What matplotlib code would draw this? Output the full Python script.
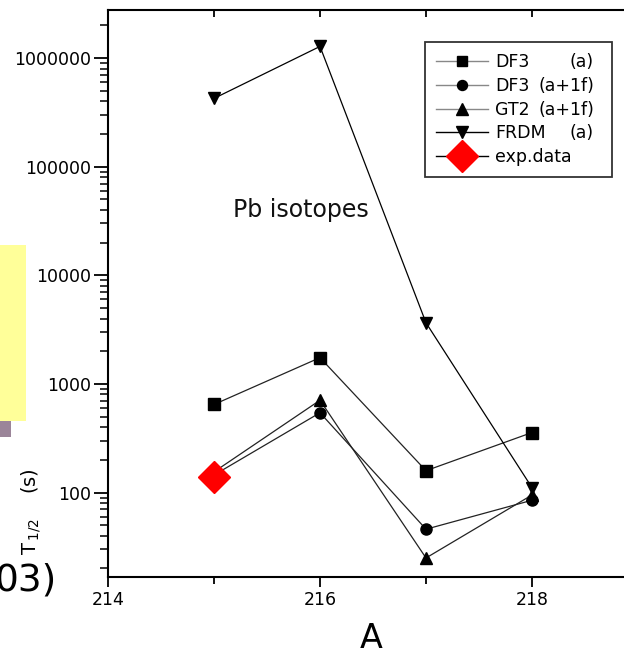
import matplotlib
matplotlib.use("Agg")
import matplotlib.pyplot as plt
from matplotlib.patches import Rectangle
from matplotlib.ticker import LogLocator, NullFormatter, FixedLocator

plt.rcParams['font.family'] = ['DejaVu Sans']

# ---- data ----
A = [215, 216, 217, 218]
df3_a = [647, 1746, 159, 357]
df3_a1f = [145, 543, 46, 85]
gt2_a1f = [155, 708, 25, 95]
frdm_a = [4.25e5, 1.28e6, 3655, 111]
exp_A = [215]
exp_T = [140]

names = ["DF3", "DF3", "GT2", "FRDM", "exp.data"]
suffix = ["(a)", "(a+1f)", "(a+1f)", "(a)", ""]

xticks = [214, 216, 218]
xticklabels = ["214", "216", "218"]
yticks = [100, 1000, 10000, 100000, 1000000]
yticklabels = ["100", "1000", "10000", "100000", "1000000"]

W, H = 624, 649
fig = plt.figure(figsize=(W / 100, H / 100), dpi=100)

# axes in pixel coordinates: left 108, top 10, bottom 577, x-scale 106 px/unit
left, top, bottom = 108, 10, 577
xmin, xmax = 214, 219
px_per_unit = 106
axw = (xmax - xmin) * px_per_unit
axh = bottom - top
ax = fig.add_axes([left / W, (H - bottom) / H, axw / W, axh / H])
ax.set_xlim(xmin, xmax)
ax.set_yscale('log')
ax.set_ylim(16.7, 2.77e6)

lc = '#222222'
ax.plot(A, df3_a, color=lc, lw=0.9, marker='s', ms=8, mfc='black', mec='black', label=names[0], zorder=3)
ax.plot(A, df3_a1f, color=lc, lw=0.9, marker='o', ms=8, mfc='black', mec='black', label=names[1], zorder=3)
ax.plot(A, gt2_a1f, color=lc, lw=0.9, marker='^', ms=9, mfc='black', mec='black', label=names[2], zorder=3)
ax.plot(A, frdm_a, color='black', lw=0.9, marker='v', ms=9, mfc='black', mec='black', label=names[3], zorder=3)
ax.plot(exp_A, exp_T, color='black', lw=0.9, marker='D', ms=16, mfc='#ff0000', mec='#ff0000',
        label=names[4], zorder=5, linestyle='-')

# ticks
ax.xaxis.set_major_locator(FixedLocator(xticks))
ax.set_xticklabels(xticklabels)
ax.xaxis.set_minor_locator(FixedLocator([215, 217]))
ax.yaxis.set_major_locator(FixedLocator(yticks))
ax.set_yticklabels(yticklabels)
ax.yaxis.set_minor_locator(LogLocator(base=10, subs=range(2, 10), numticks=20))
ax.yaxis.set_minor_formatter(NullFormatter())
ax.tick_params(axis='y', which='major', direction='out', length=10, width=1.3, labelsize=12.5, pad=2, right=False)
ax.tick_params(axis='y', which='minor', direction='out', length=6, width=1.1, right=False)
ax.tick_params(axis='x', which='major', direction='out', length=7, width=1.3, labelsize=12.5, pad=3)
ax.tick_params(axis='x', which='minor', direction='out', length=5, width=1.3)
# top ticks pointing inward
secx = ax.secondary_xaxis('top')
secx.xaxis.set_major_locator(FixedLocator([215, 216, 217, 218]))
secx.tick_params(axis='x', direction='in', length=5, width=1.3, labeltop=False)
secx.spines['top'].set_visible(False)
for s in ['left', 'bottom', 'top']:
    ax.spines[s].set_linewidth(1.5)

# text annotation
ax.text(215.82, 40000, "Pb isotopes", fontsize=17, ha='center', va='center', color='#111111')

# legend (box from x=425..612, y=42..174 in pixels)
lx0 = (425 - left) / axw
lx1 = (612 - left) / axw
ly1 = 1 - (42 - top) / axh
ly0 = 1 - (174 - top) / axh
leg = ax.legend(loc='upper left', bbox_to_anchor=(lx0, ly0, lx1 - lx0, ly1 - ly0), mode='expand',
                fontsize=12.5, handlelength=3.0, handletextpad=0.4, labelspacing=0.33,
                borderpad=0.65, frameon=True, fancybox=False, edgecolor='black',
                borderaxespad=0, markerscale=0.9)
leg.get_frame().set_linewidth(1.3)
leg_lines = leg.get_lines()
for i, ln in enumerate(leg_lines):
    ln.set_color('#888888' if i < 3 else 'black')
    ln.set_linewidth(1.0)
leg_lines[4].set_markersize(16)

fig.canvas.draw()
renderer = fig.canvas.get_renderer()
texts = leg.get_texts()
for t, suf in zip(texts, suffix):
    if not suf:
        continue
    bb = t.get_window_extent(renderer)
    yc = (bb.y0 + bb.y1) / 2
    fig.text(594 / W, yc / H, suf, fontsize=12.5, ha='right', va='center')

# axis labels
fig.text(371 / W, 1 - 622 / H, "A", fontsize=24, ha='center', va='top')
fig.text(31 / W, 1 - 512 / H, r"T$_{\,1/2}$    (s)", fontsize=14, rotation=90,
         ha='center', va='center')

# slide remnants
fig.add_artist(Rectangle((0, 1 - 421 / H), 26 / W, (421 - 245) / H, transform=fig.transFigure,
                         facecolor='#ffff99', edgecolor='none'))
fig.add_artist(Rectangle((0, 1 - 437 / H), 11 / W, 16 / H, transform=fig.transFigure,
                         facecolor='#9b8599', edgecolor='none'))
fig.text(57 / W, 1 - 590 / H, "03)", fontsize=27, ha='right', va='baseline', color='black')

fig.savefig("out.png", dpi=100)
